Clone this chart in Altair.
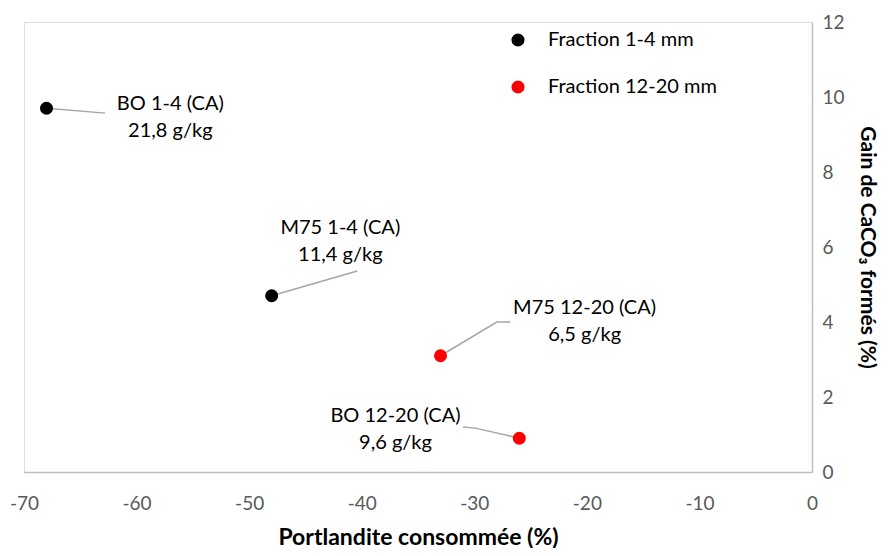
import altair as alt
import pandas as pd

# ---- data ----
names = ["BO 1-4 (CA)", "M75 1-4 (CA)", "M75 12-20 (CA)", "BO 12-20 (CA)"]
amounts = ["21,8 g/kg", "11,4 g/kg", "6,5 g/kg", "9,6 g/kg"]
fractions = ["Fraction 1-4 mm", "Fraction 1-4 mm", "Fraction 12-20 mm", "Fraction 12-20 mm"]
portlandite = [-68.0, -48.0, -33.0, -26.0]
gain = [9.7, 4.7, 3.1, 0.9]

# label anchor positions (data units, first line)
label_x = [-57.0, -41.9, -20.2, -37.0]
label_y = [9.82, 6.51, 4.37, 1.49]

# leader line polylines (data units), one per label
leader_pts = [
    [(-68.0, 9.7), (-62.8, 9.57)],
    [(-48.0, 4.7), (-40.4, 5.36)],
    [(-33.0, 3.1), (-28.0, 4.0), (-26.8, 4.0)],
    [(-26.0, 0.9), (-29.9, 1.17), (-31.0, 1.2)],
]

legend_domain = ["Fraction 1-4 mm", "Fraction 12-20 mm"]
legend_colors = ["#000000", "#ff0000"]
x_ticks = [-70, -60, -50, -40, -30, -20, -10, 0]
y_ticks = [0, 2, 4, 6, 8, 10, 12]

FONT = "Lato"

pts = pd.DataFrame({"x": portlandite, "y": gain, "fraction": fractions})
labels = pd.DataFrame({
    "x": label_x, "y": label_y,
    "text": [f"{n}\n{a}" for n, a in zip(names, amounts)],
})
rows = []
for i, poly in enumerate(leader_pts):
    for j, (lx, ly) in enumerate(poly):
        rows.append({"id": i, "order": j, "x": lx, "y": ly})
leaders = pd.DataFrame(rows)

xs = alt.Scale(domain=[-70, 0], nice=False)
ys = alt.Scale(domain=[0, 12], nice=False)

x_axis = alt.Axis(values=x_ticks, grid=False, ticks=False, domainColor="#bfbfbf",
                  domainWidth=1.5, labelColor="#595959", labelFontSize=19, labelFont=FONT,
                  labelPadding=22, labelExpr="toString(datum.value)",
                  title="Portlandite consommée (%)", titleFont=FONT,
                  titleFontSize=23, titleFontWeight="bold", titleColor="#000000",
                  titlePadding=13, labelFlush=False)
y_axis = alt.Axis(values=y_ticks, orient="right", grid=False, ticks=False,
                  domainColor="#bfbfbf", domainWidth=1.5, labelColor="#595959",
                  labelFontSize=19, labelFont=FONT, labelPadding=10,
                  title="Gain de CaCO₃ formés (%)", titleFont=FONT, titleFontSize=21,
                  titleFontWeight="bold", titleColor="#000000", titlePadding=12,
                  labelFlush=False)

lines = alt.Chart(leaders).mark_line(color="#a6a6a6", strokeWidth=1.5).encode(
    x=alt.X("x:Q", scale=xs, axis=x_axis),
    y=alt.Y("y:Q", scale=ys, axis=y_axis),
    detail="id:N",
    order="order:Q",
)

points = alt.Chart(pts).mark_circle(size=170, opacity=1).encode(
    x=alt.X("x:Q", scale=xs),
    y=alt.Y("y:Q", scale=ys),
    color=alt.Color("fraction:N",
                    scale=alt.Scale(domain=legend_domain, range=legend_colors),
                    legend=alt.Legend(title=None, orient="none", legendX=484, legendY=8,
                                      labelFont=FONT, labelFontSize=20, labelColor="#000000",
                                      labelLimit=0, symbolSize=170, symbolType="circle",
                                      rowPadding=27, labelOffset=20)),
)

texts = alt.Chart(labels).mark_text(font=FONT, fontSize=20, color="#000000",
                                    lineBreak="\n", lineHeight=27,
                                    align="center", baseline="middle").encode(
    x=alt.X("x:Q", scale=xs),
    y=alt.Y("y:Q", scale=ys),
    text="text:N",
)

chart = alt.layer(lines, points, texts).properties(
    width=788, height=450,
    autosize=alt.AutoSizeParams(type="none"),
    padding={"left": 16, "top": 14, "right": 73, "bottom": 76},
).configure_view(stroke=None).configure(background="#ffffff")

chart.save("out.html", embed_options={"renderer": "svg", "actions": False})
